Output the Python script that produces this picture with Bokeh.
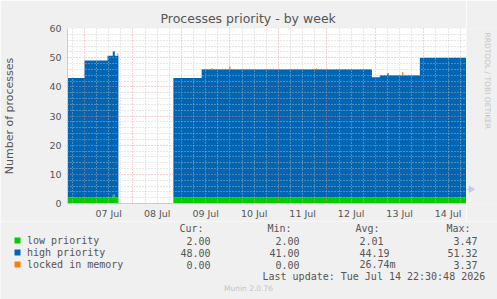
import math
from bokeh.plotting import figure
from bokeh.layouts import column, row
from bokeh.models import Range1d, FixedTicker, Grid
from bokeh.core.properties import value
from bokeh.embed import file_html
from bokeh.resources import INLINE

# ---- data (time axis: hours since 06 Jul 00:00) ----
x_start, x_end = 15.6, 213.1
day_label_hours = [36, 60, 84, 108, 132, 156, 180, 204]
day_labels = ["07 Jul", "08 Jul", "09 Jul", "10 Jul", "11 Jul", "12 Jul", "13 Jul", "14 Jul"]
midnights = [24, 48, 72, 96, 120, 144, 168, 192]
y_ticks = [0, 10, 20, 30, 40, 50, 60]

# segment before the gap
t_a = [15.6, 24.0, 35.4, 38.0, 39.0, 40.3]
end_a = 40.8
low_a = [2, 2, 2, 3, 2, 2]
high_a = [41, 47, 48.7, 49.2, 48.7, 48.7]
locked_a = [0, 0, 0, 0, 0, 0.8]

# segment after the gap
t_b = [68.0, 82.0, 86.8, 87.5, 95.6, 96.3, 138.6, 139.2, 166.3, 170.2, 173.8, 174.6, 181.2, 181.9, 190.0]
end_b = 213.1
low_b = [2, 2, 2, 2, 2, 2, 2, 2, 2, 2, 2, 2, 2, 2, 2]
high_b = [41, 44, 44, 44, 44, 44, 44, 44, 41.3, 42, 42.7, 42, 42, 42, 48]
locked_b = [0, 0, 0.4, 0, 1.0, 0, 0.4, 0, 0, 0, 0, 0, 1.0, 0, 0]

series_names = ["low priority", "high priority", "locked in memory"]
series_colors = ["#00CC00", "#0066B3", "#FF8000"]
cur_vals = ["2.00", "48.00", "0.00"]
min_vals = ["2.00", "41.00", "0.00"]
avg_vals = ["2.01", "44.19", "26.74m"]
max_vals = ["3.47", "51.32", "3.37"]

title_text = "Processes priority - by week"
y_label_text = "Number of processes"
last_update = "Last update: Tue Jul 14 22:30:48 2026"
munin_text = "Munin 2.0.76"
rrd_text = "RRDTOOL / TOBI OETIKER"

TXT = "#555555"
BG = "#F0F0F0"
AXC = "#C8C8EE"
MAIN_H = 221
LEG_H = 299 - MAIN_H


def steps(t, end, vals):
    xs, ys = [], []
    for i, ti in enumerate(t):
        tn = t[i + 1] if i + 1 < len(t) else end
        xs += [ti, tn]
        ys += [vals[i], vals[i]]
    return xs, ys


# ---------------- main chart ----------------
p = figure(width=466, height=MAIN_H, output_backend="svg", toolbar_location=None,
           x_range=Range1d(x_start, x_end), y_range=Range1d(0, 60),
           min_border_left=67, min_border_right=0, min_border_top=28, min_border_bottom=18,
           title=title_text)
p.border_fill_color = BG
p.background_fill_color = "#FFFFFF"
p.outline_line_color = None
p.xgrid.visible = False
p.ygrid.visible = False
p.title.text_font = "DejaVu Sans"
p.title.text_font_size = "12.5px"
p.title.text_font_style = "normal"
p.title.text_color = TXT
p.title.align = "left"
p.title.offset = 93
p.title.standoff = 6

for t, end, low, high, locked in [(t_a, end_a, low_a, high_a, locked_a),
                                  (t_b, end_b, low_b, high_b, locked_b)]:
    xs, lo = steps(t, end, low)
    _, hi = steps(t, end, high)
    _, lk = steps(t, end, locked)
    s2 = [a + b for a, b in zip(lo, hi)]
    s3 = [a + b for a, b in zip(s2, lk)]
    p.varea(x=xs, y1=[0] * len(xs), y2=lo, fill_color=series_colors[0])
    p.varea(x=xs, y1=lo, y2=s2, fill_color=series_colors[1])
    p.varea(x=xs, y1=s2, y2=s3, fill_color=series_colors[2])

minor_x = [h for h in range(18, 213, 6) if h % 24 != 0]
minor_y = [v for v in range(2, 60, 2) if v % 10 != 0]
for dim, ticks, col, alpha in [(0, minor_x, "#C4C4C4", 0.8), (1, minor_y, "#C4C4C4", 0.8),
                               (0, midnights, "#E88C8C", 0.8), (1, y_ticks[1:], "#E88C8C", 0.8)]:
    p.add_layout(Grid(dimension=dim, ticker=FixedTicker(ticks=ticks), grid_line_color=col,
                      grid_line_alpha=alpha, grid_line_dash="1 2", grid_line_width=1, level="guide"))

p.xaxis.ticker = FixedTicker(ticks=day_label_hours)
p.xaxis.major_label_overrides = {h: lab for h, lab in zip(day_label_hours, day_labels)}
p.yaxis.ticker = FixedTicker(ticks=y_ticks)
for ax in (p.xaxis, p.yaxis):
    ax.major_tick_line_color = None
    ax.minor_tick_line_color = None
    ax.major_tick_out = 0
    ax.major_tick_in = 0
    ax.minor_tick_out = 0
    ax.axis_line_color = AXC
    ax.major_label_text_color = TXT
    ax.major_label_text_font = "DejaVu Sans"
    ax.major_label_text_font_size = "9.5px"
p.xaxis.major_label_standoff = 4
p.yaxis.major_label_standoff = 6
p.yaxis.axis_label = y_label_text
p.yaxis.axis_label_text_font = "DejaVu Sans"
p.yaxis.axis_label_text_font_size = "11px"
p.yaxis.axis_label_text_font_style = "normal"
p.yaxis.axis_label_text_color = TXT
p.yaxis.axis_label_standoff = 30

# ---------------- right strip (rrdtool credit + x-axis arrow) ----------------
r = figure(width=31, height=MAIN_H, output_backend="svg", toolbar_location=None,
           x_range=Range1d(0, 31), y_range=Range1d(MAIN_H, 0),
           min_border=0, x_axis_type=None, y_axis_type=None)
r.border_fill_color = BG
r.background_fill_color = BG
r.outline_line_color = None
r.grid.visible = False
r.text(x=[21], y=[5], text=[rrd_text], angle=-math.pi / 2, text_font=value("DejaVu Sans"),
       text_font_size="7.5px", text_color="#C4C4C4", text_align="left", text_baseline="middle")
r.segment(x0=[0], y0=[203], x1=[3], y1=[203], line_color=AXC)
r.scatter(x=[4.5], y=[203], marker="triangle", angle=-math.pi / 2, size=6,
          fill_color=AXC, line_color=AXC)

# ---------------- legend area ----------------
g = figure(width=497, height=LEG_H, output_backend="svg", toolbar_location=None,
           x_range=Range1d(0, 497), y_range=Range1d(LEG_H, 0),
           min_border=0, x_axis_type=None, y_axis_type=None)
g.border_fill_color = BG
g.background_fill_color = BG
g.outline_line_color = None
g.grid.visible = False

Y0 = MAIN_H
mono = dict(text_font=value("DejaVu Sans Mono"), text_font_size="10px",
            text_color=TXT, text_baseline="middle")

hdr_y = 228 - Y0
g.text(x=[203, 291, 379, 470], y=[hdr_y] * 4, text=["Cur:", "Min:", "Avg:", "Max:"],
       text_align="right", **mono)
row_y = [240 - Y0 + 12 * i for i in range(3)]
g.quad(left=[14] * 3, right=[20] * 3, top=[y - 3 for y in row_y], bottom=[y + 3 for y in row_y],
       fill_color=series_colors, line_color=None)
g.text(x=[26.5] * 3, y=row_y, text=series_names, text_align="left", **mono)
g.text(x=[210] * 3, y=row_y, text=cur_vals, text_align="right", **mono)
g.text(x=[299] * 3, y=row_y, text=min_vals, text_align="right", **mono)
g.text(x=[359] * 3, y=row_y, text=avg_vals, text_align="left", **mono)
g.text(x=[477] * 3, y=row_y, text=max_vals, text_align="right", **mono)
g.text(x=[262], y=[276 - Y0], text=[last_update], text_align="left", **mono)
g.text(x=[248], y=[288 - Y0], text=[munin_text], text_align="center", text_baseline="middle",
       text_font=value("DejaVu Sans"), text_font_size="7.5px", text_color="#C4C4C4")

layout = column(row(p, r, spacing=0), g, spacing=0)
open("out.html", "w").write(file_html(layout, INLINE))
